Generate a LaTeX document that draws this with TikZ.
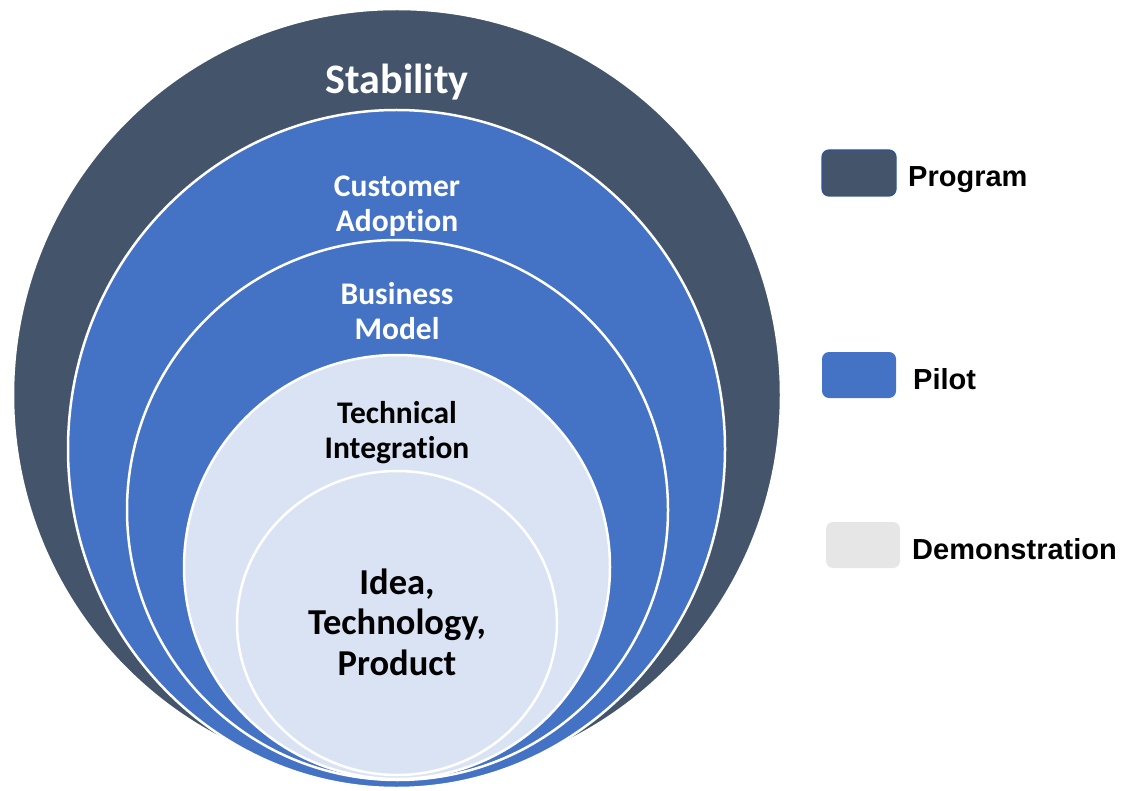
\documentclass[tikz,border=0pt]{standalone}
\usepackage{fontspec}
\setmainfont{Carlito}[Ligatures=NoCommon]
\newfontfamily\legendfont{Liberation Sans}
\usepackage{xcolor}
\usepackage{tikz}
\usetikzlibrary{shapes}

\definecolor{progcol}{HTML}{44546A}
\definecolor{pilotcol}{HTML}{4472C4}
\definecolor{democol}{HTML}{DAE3F3}
\definecolor{legdemo}{HTML}{E7E6E6}
\definecolor{legborder}{HTML}{2F5597}

\tikzset{
  ring/.style={shape=ellipse,draw=white,line width=2.5pt,inner sep=0pt},
  ringtext/.style={align=center,inner sep=0pt,font=\bfseries\fontsize{31.5}{35}\selectfont},
  legendbox/.style={shape=rectangle,rounded corners=7pt,minimum width=74pt,minimum height=46pt,inner sep=0pt},
  legendtext/.style={anchor=base west,inner sep=0pt,font=\legendfont\bfseries\fontsize{29}{34}\selectfont}
}

\begin{document}
\begin{tikzpicture}[x=1pt,y=-1pt]
\useasboundingbox (0,0) rectangle (1137,791);

\node (stabring) at (397,395) [ring,fill=progcol,minimum width=768pt,minimum height=772pt] {};
\node (adoptring) at (396.5,449) [ring,fill=pilotcol,minimum width=657pt,minimum height=678pt] {};
\node (modelring) at (397.5,510) [ring,fill=pilotcol,minimum width=541pt,minimum height=540pt] {};
\node (integring) at (397,567) [ring,fill=democol,minimum width=426pt,minimum height=424pt] {};
\node (idearing) at (397,623) [ring,fill=democol,minimum width=320pt,minimum height=304pt] {};

\node (stability) at (397,82) [ringtext,text=white,font=\bfseries\fontsize{42}{48}\selectfont] {Stability};
\node (adoption) at (397,206) [ringtext,text=white] {Customer\\Adoption};
\node (model) at (397,311) [ringtext,text=white] {Business\\Model};
\node (integration) at (397,433) [ringtext,text=black] {Technical\\Integration};
\node (idea) at (397,622) [ringtext,text=black,font=\bfseries\fontsize{36.5}{40.5}\selectfont] {Idea,\\Technology,\\Product};

\node (progbox) at (859,173) [legendbox,fill=progcol,draw=legborder,line width=1.2pt] {};
\node (pilotbox) at (859,375) [legendbox,fill=pilotcol] {};
\node (demobox) at (863,545) [legendbox,fill=legdemo] {};

\node (proglabel) at (908,187) [legendtext] {Program};
\node (pilotlabel) at (913,389) [legendtext] {Pilot};
\node (demolabel) at (912,559) [legendtext] {Demonstration};
\end{tikzpicture}
\end{document}
